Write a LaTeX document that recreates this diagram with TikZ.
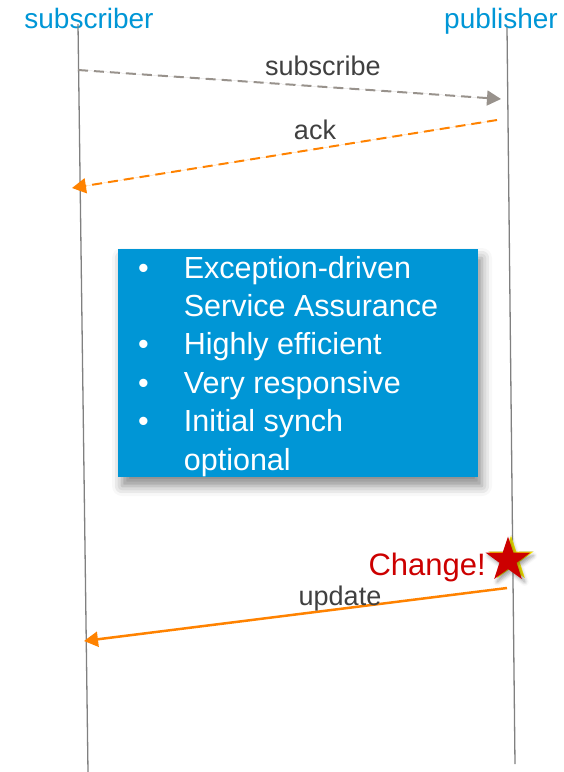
\documentclass[tikz,border=0pt]{standalone}
\usepackage{fontspec}
\setmainfont{Liberation Sans}
\usetikzlibrary{arrows.meta,shapes.geometric,shadows.blur}

\definecolor{headblue}{RGB}{0,150,214}
\definecolor{boxblue}{RGB}{0,150,214}
\definecolor{msgorange}{RGB}{255,130,0}
\definecolor{msggray}{RGB}{152,146,140}
\definecolor{lifegray}{RGB}{128,128,128}
\definecolor{labelgray}{RGB}{64,64,64}
\definecolor{changered}{RGB}{204,0,0}

\begin{document}
\begin{tikzpicture}[x=1pt,y=-1pt,
        lifeline/.style={draw=lifegray,line width=1.3pt},
        msg/.style={line width=2pt,-{Triangle[length=14pt,width=15pt]}},
        head/.style={text=headblue,font=\fontsize{28}{30}\selectfont,anchor=base,inner sep=0pt},
        msglabel/.style={text=labelgray,font=\fontsize{27}{29}\selectfont,anchor=base,inner sep=0pt},
        starshape/.style={star,star points=5,star point ratio=2.6,minimum size=47pt,inner sep=0pt}]
        \useasboundingbox (0,0) rectangle (564,772);

        % lifelines
        \node[head] (sub) at (89,28) {subscriber};
        \node[head] (pub) at (501,28) {publisher};
        \coordinate (subtop) at (78,24);
        \coordinate (subbot) at (88,772);
        \coordinate (pubtop) at (507,27);
        \coordinate (pubbot) at (515,764);
        \draw[lifeline] (subtop) -- (subbot);
        \draw[lifeline] (pubtop) -- (pubbot);

        % subscribe / ack
        \coordinate (subfrom) at (78,70);
        \coordinate (subto) at (501,99);
        \coordinate (ackfrom) at (497,120);
        \coordinate (ackto) at (72,188);
        \draw[msg,draw=msggray,fill=msggray,dash pattern=on 10pt off 6pt] (subfrom) -- (subto);
        \draw[msg,draw=msgorange,fill=msgorange,dash pattern=on 10pt off 6pt] (ackfrom) -- (ackto);
        \node[msglabel] (sublbl) at (323,75) {subscribe};
        \node[msglabel] (acklbl) at (315,139) {ack};

        % note box
        \node[fill=boxblue,minimum width=360pt,minimum height=228pt,inner sep=0pt,
            blur shadow={shadow xshift=4pt,shadow yshift=-9pt,shadow blur radius=10pt,shadow opacity=45}] (note) at (298,363) {};
        \node[text=white,anchor=north west,inner sep=0pt,font=\fontsize{30.5}{38.4}\selectfont] (notetxt) at (138,251) {%
            \begin{tabular}{@{}c@{\hspace{35pt}}l@{}}
            \textbullet & Exception-driven\\
                        & Service Assurance\\
            \textbullet & Highly efficient\\
            \textbullet & Very responsive\\
            \textbullet & Initial synch\\
                        & optional
            \end{tabular}};

        % change and update
        \node[starshape,fill=yellow] (glow) at (511,559) {};
        \node[starshape,fill=changered,blur shadow={shadow xshift=3pt,shadow yshift=-3pt,shadow blur radius=4pt}] (chg) at (508,560) {};
        \node[text=changered,anchor=base east,inner sep=0pt,font=\fontsize{31}{33}\selectfont] (chglbl) at (486,575) {Change!};
        \coordinate (updfrom) at (507,588);
        \coordinate (updto) at (84,641);
        \draw[msg,draw=msgorange,fill=msgorange,line width=2.5pt] (updfrom) -- (updto);
        \node[msglabel] (updlbl) at (340,605) {update};
    \end{tikzpicture}
\end{document}
